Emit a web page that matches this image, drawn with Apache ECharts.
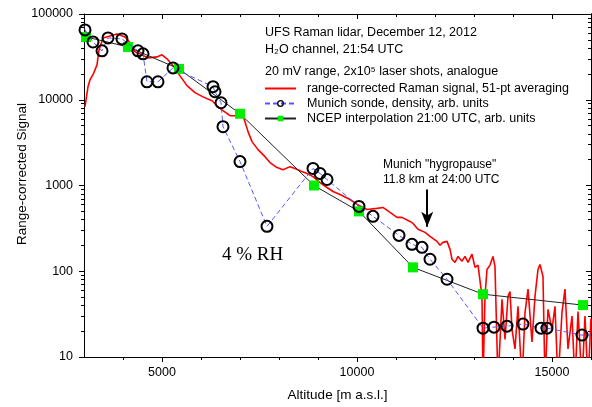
<!DOCTYPE html>
<html>
<head>
<meta charset="utf-8">
<script src="https://cdn.jsdelivr.net/npm/echarts@6/dist/echarts.min.js"></script>
<style>
  html, body { margin: 0; padding: 0; background: #fff; }
  #chart { width: 592px; height: 407px; }
</style>
</head>
<body>
<div id="chart"></div>
<script>
// range-corrected Raman signal (red); 5 = dropout below axis
const ramanAlt = [3026, 3103, 3154, 3231, 3333, 3385, 3487, 3667, 3846, 4051, 4231, 4308, 4436, 4641,
  4872, 5000, 5128, 5333, 5462, 5641, 5846, 6051, 6282, 6410, 6564, 6744, 6923, 7051, 7128, 7205,
  7308, 7462, 7641, 7769, 7949, 8103, 8282, 8410, 8538, 8718, 8872, 9051, 9231, 9385, 9564, 9821,
  10000, 10256, 10513, 10667, 10846, 11026, 11154, 11359, 11436, 11564, 11744, 11872, 12051, 12128,
  12205, 12308, 12385, 12436, 12513, 12590, 12692, 12769, 12846, 12949, 13026, 13103, 13205, 13231,
  13282, 13333, 13410, 13487, 13538, 13615, 13718, 13795, 13872, 13923, 13974, 14051, 14128, 14231,
  14308, 14385, 14487, 14564, 14641, 14692, 14769, 14821, 14897, 15000, 15077, 15154, 15256, 15333,
  15410, 15513, 15590, 15667, 15769, 15846, 15923, 16000];
const ramanVal = [8300, 14200, 17100, 19600, 25500, 38100, 52600, 55500, 58500, 54000, 43600, 36200, 34300, 30800,
  31600, 33400, 30000, 23500, 19000, 14600, 12100, 10800, 9730, 8510, 7450, 6520, 6520, 7070, 5550, 4250,
  3250, 2620, 2170, 1850, 1620, 1530, 1660, 1580, 1490, 1380, 1270, 1080, 948, 852, 786, 687,
  601, 526, 541, 555, 485, 425, 425, 381, 361, 308, 284, 255, 223, 201,
  217, 223, 180, 138, 127, 149, 131, 149, 127, 158, 111, 118, 51, 5,
  51, 105, 118, 149, 114, 5, 47, 16, 51, 58, 21, 12.4, 39, 5,
  33, 62, 15, 51, 105, 120, 87, 5, 36, 21, 39, 5, 33, 62,
  12.4, 30, 5, 34, 5, 30, 5, 28];

// Munich sonde, density (blue dashed, open circles)
const sondeAlt = [3026, 3231, 3462, 3615, 3974, 4385, 4513, 4615, 4897, 5282, 6308, 6359, 6513, 6564,
  7000, 7692, 8872, 9051, 9231, 10051, 10410, 11077, 11410, 11667, 11872, 12308, 13231, 13513,
  13846, 14256, 14718, 14872, 15769, 16000];
const sondeVal = [65200, 47200, 37200, 52600, 51200, 37200, 34300, 16200, 16200, 23500, 14200, 12400, 9230, 4850,
  1900, 334, 1580, 1380, 1175, 570, 437, 262, 206, 190, 138, 80.7, 21.7, 22.3,
  22.9, 24.2, 21.7, 21.7, 18.0, 18.0];

// NCEP interpolation 21:00 UTC (black line, green squares); the 3000 m point is where the line leaves the frame
const ncepAlt = [3000, 3051, 4128, 5436, 7000, 8897, 10051, 11436, 13231, 15795];
const ncepVal = [74000, 54000, 41300, 22900, 6870, 1000, 499, 111, 54, 40.3];

const yMajor = [10, 100, 1000, 10000, 100000];
const yMinor = [];
for (let d = 10; d < 100000; d *= 10) for (let k = 2; k <= 9; k++) yMinor.push(d * k);
const xMajor = [5000, 10000, 15000];
const xMinor = [4000, 6000, 7000, 8000, 9000, 11000, 12000, 13000, 14000, 16000];

const FONT = '"Liberation Sans", Arial, sans-serif';
const zip = (a, b) => a.map((v, i) => [v, b[i]]);
const plain = v => String(Math.round(v));

function xAx(pos, ticks, len, inside, labels) {
  return {
    type: 'value', min: 3000, max: 16000, position: pos,
    axisLine: { show: !!labels || pos === 'top', onZero: false, lineStyle: { color: '#000', width: 1 } },
    axisTick: { show: true, inside, length: len, customValues: ticks, lineStyle: { color: '#000' } },
    axisLabel: labels ? { show: true, customValues: xMajor, formatter: plain, color: '#000', fontSize: 12.5, fontFamily: FONT, margin: 9 } : { show: false },
    splitLine: { show: false },
  };
}
function yAx(pos, ticks, len, inside, labels) {
  return {
    type: 'log', logBase: 10, min: 10, max: 100000, position: pos,
    axisLine: { show: !!labels || pos === 'right', onZero: false, lineStyle: { color: '#000', width: 1 } },
    axisTick: { show: true, inside, length: len, customValues: ticks, lineStyle: { color: '#000' } },
    axisLabel: labels ? { show: true, customValues: yMajor, formatter: plain, color: '#000', fontSize: 12.5, fontFamily: FONT, margin: 11 } : { show: false },
    splitLine: { show: false },
    minorTick: { show: false },
  };
}

const RAMAN = 'range-corrected Raman signal, 51-pt averaging';
const SONDE = 'Munich sonde, density, arb. units';
const NCEP = 'NCEP interpolation 21:00 UTC, arb. units';

const chart = echarts.init(document.getElementById('chart'));
chart.setOption({
  animation: false,
  grid: { left: 84, right: 1, top: 14, bottom: 49 },
  xAxis: [
    Object.assign(xAx('bottom', xMajor, 5, false, true), {
      name: 'Altitude [m a.s.l.]', nameLocation: 'middle', nameGap: 31,
      nameTextStyle: { color: '#000', fontSize: 13.5, fontFamily: FONT },
    }),
    xAx('bottom', xMinor, 3, false, false),
    xAx('top', xMajor, 5, true, false),
    xAx('top', xMinor, 3, true, false),
  ],
  yAxis: [
    yAx('left', yMajor, 5, false, true),
    yAx('left', yMinor, 3, false, false),
    yAx('right', yMajor, 5, true, false),
    yAx('right', yMinor, 3, true, false),
  ],
  legend: {
    orient: 'vertical', left: 264, top: 82, padding: 0, itemGap: 2, itemWidth: 31, itemHeight: 7,
    textStyle: { color: '#000', fontSize: 12.5, fontFamily: FONT, padding: [0, 0, 0, 6] },
    data: [
      { name: RAMAN, itemStyle: { opacity: 0 } },
      { name: SONDE, itemStyle: { borderWidth: 1.3 } },
      { name: NCEP },
    ],
  },
  graphic: [
    { type: 'text', x: 265, y: 33, style: { text: 'UFS Raman lidar, December 12, 2012', font: '12.5px ' + FONT, fill: '#000', verticalAlign: 'middle' } },
    { type: 'text', x: 265, y: 50, style: { text: 'H\u2082O channel, 21:54 UTC', font: '12.5px ' + FONT, fill: '#000', verticalAlign: 'middle' } },
    { type: 'text', x: 265, y: 72, style: { text: '20 mV range, 2x10\u2075 laser shots, analogue', font: '12.5px ' + FONT, fill: '#000', verticalAlign: 'middle' } },
    { type: 'text', x: 383, y: 165, style: { text: 'Munich "hygropause"', font: '12px ' + FONT, fill: '#000', verticalAlign: 'middle' } },
    { type: 'text', x: 383, y: 180, style: { text: '11.8 km at 24:00 UTC', font: '12px ' + FONT, fill: '#000', verticalAlign: 'middle' } },
    { type: 'text', x: 222, y: 255, style: { text: '4 % RH', font: '19px "Liberation Serif", "Times New Roman", serif', fill: '#000', verticalAlign: 'middle' } },
    { type: 'text', x: 22, y: 174, rotation: Math.PI / 2, style: { text: 'Range-corrected Signal', font: '13.5px ' + FONT, fill: '#000', align: 'center', verticalAlign: 'middle' } },
  ],
  series: [
    {
      name: RAMAN, type: 'line', data: zip(ramanAlt, ramanVal),
      symbol: 'none', clip: true, z: 2,
      lineStyle: { color: '#ff0000', width: 1.6 }, itemStyle: { color: '#ff0000', opacity: 0 },
      markLine: {
        silent: true, symbol: ['none', 'arrow'], symbolSize: [9, 15], label: { show: false },
        lineStyle: { color: '#000', width: 2, type: 'solid', opacity: 1 },
        data: [[{ coord: [11800, 900] }, { coord: [11800, 330] }]],
      },
    },
    {
      name: NCEP, type: 'line',
      data: zip(ncepAlt, ncepVal).map(p => (p[0] <= 3000 ? { value: p, symbol: 'none' } : p)),
      symbol: 'rect', symbolSize: 10, z: 4, clip: true,
      lineStyle: { color: '#222', width: 1 },
      itemStyle: { color: '#00ee00', borderWidth: 0 },
    },
    {
      name: SONDE, type: 'line',
      data: zip(sondeAlt, sondeVal).map(p => (p[0] >= 16000 ? { value: p, symbol: 'none' } : p)),
      symbol: 'circle', symbolSize: 11, z: 5, clip: true,
      lineStyle: { color: '#5555ff', width: 1, type: [5, 3] },
      itemStyle: { color: 'rgba(255,255,255,0)', borderColor: '#000', borderWidth: 2 },
    },
  ],
});
</script>
</body>
</html>
